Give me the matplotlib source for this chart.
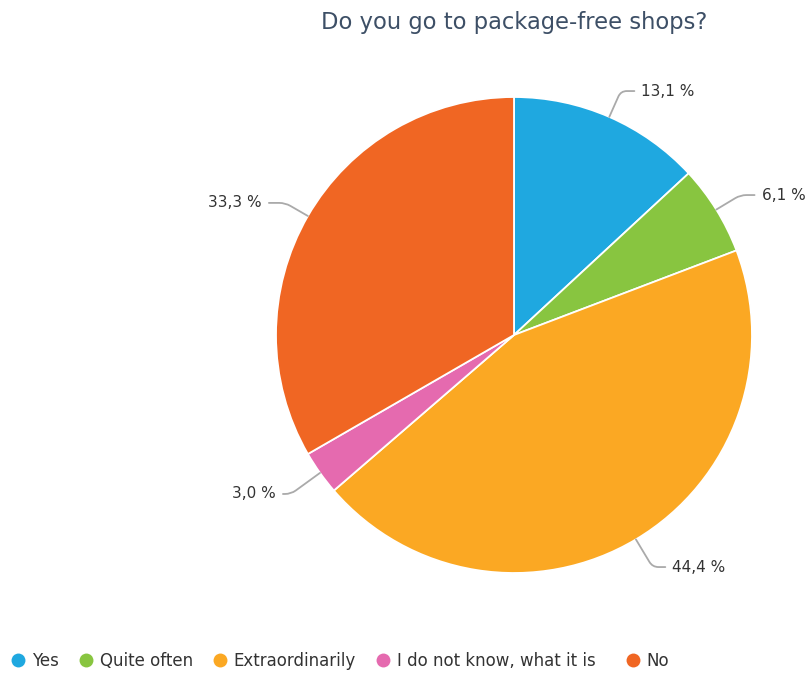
import matplotlib.pyplot as plt
from matplotlib.lines import Line2D
import numpy as np

categories = ["Yes", "Quite often", "Extraordinarily", "I do not know, what it is  ", "No"]
shares = [13.1, 6.1, 44.4, 3.0, 33.3]
pct_labels = ["13,1 %", "6,1 %", "44,4 %", "3,0 %", "33,3 %"]
colors = ["#1fa8e0", "#88c540", "#fba823", "#e56aaf", "#f06623"]

# where each percent label sits (data coords, pie radius = 1)
label_pos = [(0.535, 1.025), (1.04, 0.588), (0.665, -0.975), (-1.0, -0.668), (-1.059, 0.555)]
label_ha = ["left", "left", "left", "right", "right"]

W, H = 805, 673
fig = plt.figure(figsize=(W / 100, H / 100), dpi=100)

cx, cy, r = 514, 335, 238
ax = fig.add_axes([(cx - r) / W, (H - cy - r) / H, 2 * r / W, 2 * r / H])

wedges, _ = ax.pie(shares, colors=colors, startangle=90, counterclock=False,
                   radius=1, normalize=True,
                   wedgeprops=dict(edgecolor="white", linewidth=1.3))
ax.set_xlim(-1, 1)
ax.set_ylim(-1, 1)
ax.set_aspect("equal")
ax.axis("off")

# leader lines from each wedge's outer midpoint to its label
total = sum(shares)
cum = 0
for i, v in enumerate(shares):
    mid = 90 - (cum + v / 2) / total * 360
    cum += v
    a = np.deg2rad(mid)
    ex, ey = np.cos(a), np.sin(a)
    ax.annotate(pct_labels[i], xy=(ex, ey), xytext=label_pos[i],
                ha=label_ha[i], va="center", fontsize=11, color="#333333",
                annotation_clip=False,
                arrowprops=dict(arrowstyle="-", color="#aaaaaa", lw=1.3,
                                shrinkA=3, shrinkB=0,
                                connectionstyle="angle,angleA=0,angleB=%d,rad=6" % mid))

fig.text(cx / W, 1 - 23 / H, "Do you go to package-free shops?", ha="center", va="center",
         fontsize=16.3, color="#3d4f66")

handles = [Line2D([], [], marker="o", linestyle="", markersize=10, markerfacecolor=c,
                  markeredgecolor="none") for c in colors]
fig.legend(handles, categories, loc="center left", bbox_to_anchor=(-0.005, 1 - 661 / H),
           ncol=5, frameon=False, fontsize=12, handletextpad=0.35, columnspacing=1.2,
           handlelength=0.9, labelcolor="#333333")

fig.savefig("out.png", dpi=100)
